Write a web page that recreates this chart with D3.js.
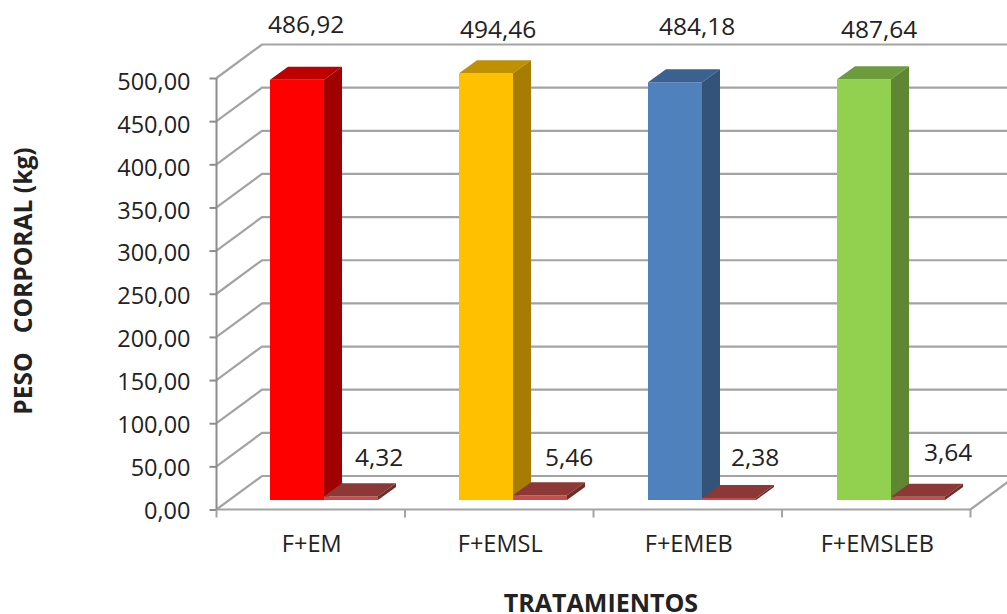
<!DOCTYPE html>
<html>
<head>
<meta charset="utf-8">
<script src="https://cdn.jsdelivr.net/npm/d3@7/dist/d3.min.js"></script>
<style>
html,body{margin:0;padding:0;background:#fff;}
svg{display:block;}
text{font-family:"Open Sans","Noto Sans",sans-serif;fill:#222;}
</style>
</head>
<body>
<svg id="chart" width="1007" height="614"></svg>
<script>
// Body weight per treatment, with its deviation as a second, small bar
const categories = ["F+EM", "F+EMSL", "F+EMEB", "F+EMSLEB"];
const weights = [486.92, 494.46, 484.18, 487.64];
const deviations = [4.32, 5.46, 2.38, 3.64];
const yTicks = [0, 50, 100, 150, 200, 250, 300, 350, 400, 450, 500];

const faceColors = ["#ff0000", "#ffc000", "#4f81bd", "#92d050"];
const topColors = ["#bf0000", "#bf9000", "#3b6190", "#6d9c3c"];
const sideColors = ["#a00000", "#a67d00", "#335378", "#5f8733"];
const devFace = "#c0504d", devTop = "#8c3836", devSide = "#6e2c2a";
const gridColor = "#a3a3a3";

// Hand-placed data label nudges relative to the bar they belong to
const weightLabelNudge = [[-2, -47], [1, -35], [11, -47], [4, -41]];
const devLabelNudge = [[31, -30], [32, -29], [29, -32], [33, -36]];

const fmt = d3.formatLocale({decimal: ",", thousands: ".", grouping: [3], currency: ["", ""]}).format(".2f");

const svg = d3.select("#chart");
const x0 = 216.5, x1 = 970.5, yBase = 509.5, yTop = 78;
const wallDx = 45.5, wallDy = -33.5;      // full depth of the 3D box
const barInsetY = -9.5;                   // front face of the bars inside the box
const barDx = 18, barDy = -13;            // depth of each bar

const x = d3.scaleBand().domain(categories).range([x0, x1]);
const y = d3.scaleLinear().domain([0, 500]).range([yBase, yTop]);
const tickLabelShift = d3.scaleLinear().domain([0, 500]).range([1, 4]);
const barWidth = 54;
const barPos = d3.scalePoint().domain(categories).range([270, 837]);
const barX = d => barPos(d);

// Back wall and floor gridlines, with their diagonals down the left side wall
const grid = svg.append("g").attr("fill", "none").attr("stroke", gridColor).attr("stroke-width", 2.2);
yTicks.forEach(t => {
  grid.append("path").attr("d", d3.line()([
    [x0, y(t)], [x0 + wallDx, y(t) + wallDy], [1007, y(t) + wallDy]
  ]));
});
// Floor front edge and right-hand diagonal
grid.append("path").attr("d", d3.line()([
  [x0, yBase], [x1, yBase], [x1 + 37, yBase + wallDy * 37 / wallDx]
]));

// Value axis
const yAxis = svg.append("g")
  .attr("transform", `translate(${x0},0)`)
  .call(d3.axisLeft(y).tickValues(yTicks).tickSize(7).tickPadding(19).tickFormat(fmt));
yAxis.selectAll("path,line").attr("stroke", "#8c8c8c").attr("stroke-width", 2);
yAxis.select(".domain").attr("d", `M0,${yTop}V${yBase}`);
yAxis.selectAll("text")
  .attr("font-size", 23.5)
  .attr("font-family", '"Open Sans"')
  .attr("fill", "#222")
  .attr("transform", d => `translate(0,${tickLabelShift(d)})`);

// Category axis ticks at the band boundaries
const xTicks = svg.append("g").attr("stroke", "#a3a3a3").attr("stroke-width", 2);
categories.concat([null]).forEach(c => {
  const px = c === null ? x1 : x(c);
  xTicks.append("line").attr("x1", px).attr("x2", px).attr("y1", yBase).attr("y2", yBase + 8);
});
svg.append("g").selectAll("text").data(categories).join("text")
  .attr("x", d => x(d) + x.bandwidth() / 2 + 1)
  .attr("y", 552)
  .attr("text-anchor", "middle")
  .attr("font-size", 23.5)
  .text(d => d);

function drawBar(g, px, v, face, top, side) {
  const yB = y(0) + barInsetY, yT = y(v) + barInsetY;
  const w = barWidth;
  g.append("polygon").attr("fill", face)
    .attr("points", [[px, yT], [px + w, yT], [px + w, yB], [px, yB]].join(" "));
  g.append("polygon").attr("fill", top)
    .attr("points", [[px, yT], [px + barDx, yT + barDy], [px + w + barDx, yT + barDy], [px + w, yT]].join(" "));
  g.append("polygon").attr("fill", side)
    .attr("points", [[px + w, yT], [px + w + barDx, yT + barDy], [px + w + barDx, yB + barDy], [px + w, yB]].join(" "));
}

// Tall bars first; the small deviation bars sit against their side faces
const bars = svg.append("g");
categories.forEach((c, i) => drawBar(bars, barX(c), weights[i], faceColors[i], topColors[i], sideColors[i]));
categories.forEach((c, i) => drawBar(bars, barX(c) + barWidth, deviations[i], devFace, devTop, devSide));

// Data labels
const labels = svg.append("g").attr("font-size", 24.5);
categories.forEach((c, i) => {
  labels.append("text")
    .attr("x", barX(c) + weightLabelNudge[i][0])
    .attr("y", y(weights[i]) + barInsetY + weightLabelNudge[i][1])
    .text(fmt(weights[i]));
  labels.append("text")
    .attr("x", barX(c) + barWidth + devLabelNudge[i][0])
    .attr("y", y(deviations[i]) + barInsetY + devLabelNudge[i][1])
    .text(fmt(deviations[i]));
});

// Axis titles
svg.append("text").attr("x", 601).attr("y", 612).attr("text-anchor", "middle")
  .attr("font-size", 25).attr("font-weight", 700).attr("fill", "#000").text("TRATAMIENTOS");
svg.append("text").attr("transform", "translate(32,281) rotate(-90)").attr("text-anchor", "middle")
  .attr("font-size", 24.6).attr("font-weight", 700).attr("fill", "#000")
  .style("white-space", "pre").text("PESO   CORPORAL (kg)");
</script>
</body>
</html>
